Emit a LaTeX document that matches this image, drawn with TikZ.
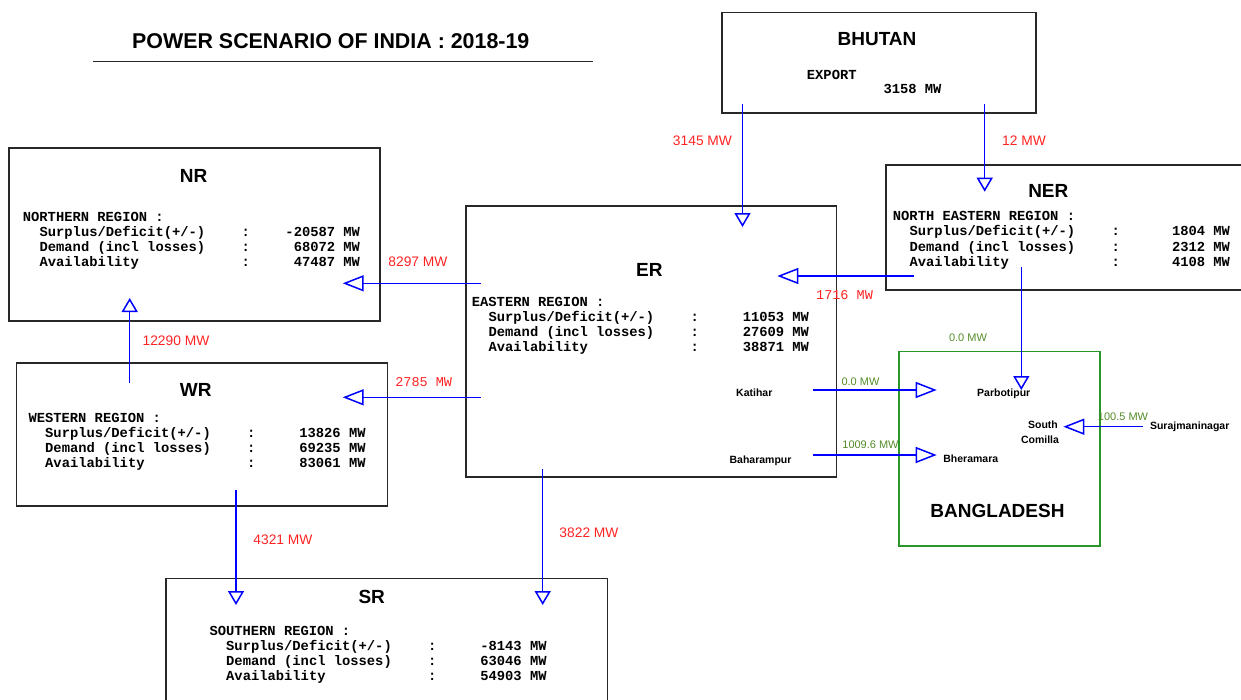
\documentclass[tikz,border=0pt]{standalone}
\usepackage{fontspec}
\setmainfont{Liberation Sans}
\newfontfamily\monof{Liberation Mono}
\usetikzlibrary{arrows.meta}

\definecolor{flowblue}{RGB}{0,0,255}
\definecolor{lblred}{RGB}{255,35,35}
\definecolor{lblgreen}{RGB}{85,140,40}
\definecolor{boxgray}{RGB}{40,40,40}
\definecolor{bdgreen}{RGB}{40,150,40}

\tikzset{
  regbox/.style={draw=boxgray, line width=1.6pt, inner sep=0pt, anchor=north west},
  bdbox/.style={draw=bdgreen, line width=1.5pt, inner sep=0pt, anchor=north west},
  harrow/.style={draw=flowblue, line width=1.5pt, -{Triangle[open,length=21pt,width=16pt]}},
  varrow/.style={draw=flowblue, line width=1.5pt, -{Triangle[open,length=14pt,width=16pt]}},
  ttl/.style={font=\fontsize{19}{19}\selectfont\bfseries, inner sep=0pt, text height=13.7pt, text depth=0pt},
  mono/.style={font=\monof\bfseries\fontsize{13.8}{14}\selectfont, inner sep=0pt, text height=8pt, text depth=0pt},
  redlbl/.style={text=lblred, font=\fontsize{13.8}{14}\selectfont, inner sep=0pt, text height=10pt, text depth=0pt},
  redmono/.style={text=lblred, font=\monof\fontsize{13.5}{14}\selectfont, inner sep=0pt, text height=8pt, text depth=0pt},
  grnlbl/.style={text=lblgreen, font=\fontsize{11}{11}\selectfont, inner sep=0pt, text height=8pt, text depth=0pt},
  place/.style={font=\fontsize{10.5}{11}\selectfont\bfseries, inner sep=0pt, text height=7.6pt, text depth=0pt},
}

% #1 name, #2 x, #3 y, #4 header, #5 surplus, #6 demand, #7 availability
\newcommand\regblock[7]{%
  \begin{scope}[shift={(#2,#3)}]
    \node[mono,anchor=west] (#1-h) at (0,0) {#4};
    \node[mono,anchor=west] (#1-sl) at (16.7,15.2) {Surplus/Deficit(+/-)};
    \node[mono,anchor=west] (#1-dl) at (16.7,30.6) {Demand (incl losses)};
    \node[mono,anchor=west] (#1-al) at (16.7,45.6) {Availability};
    \node[mono] (#1-sc) at (223,15.2) {:};
    \node[mono] (#1-dc) at (223,30.6) {:};
    \node[mono] (#1-ac) at (223,45.6) {:};
    \node[mono,anchor=east] (#1-sv) at (337.5,15.2) {#5 MW};
    \node[mono,anchor=east] (#1-dv) at (337.5,30.6) {#6 MW};
    \node[mono,anchor=east] (#1-av) at (337.5,45.6) {#7 MW};
  \end{scope}}

\begin{document}
\begin{tikzpicture}[x=1pt,y=-1pt]
\useasboundingbox (0,0) rectangle (1241,699);
\clip (0,0) rectangle (1241,699);

% title
\node[font=\fontsize{21.4}{22}\selectfont\bfseries, inner sep=0pt, text height=15.4pt, text depth=0pt] (title) at (330.8,40.8) {POWER SCENARIO OF INDIA : 2018-19};
\coordinate (ul-a) at (93.3,61.7);
\coordinate (ul-b) at (593.3,61.7);
\draw[boxgray, line width=1.5pt] (ul-a) -- (ul-b);

% boxes
\node[regbox, minimum width=314pt, minimum height=100.6pt] (bhutan) at (721,11.7) {};
\node[regbox, minimum width=371pt, minimum height=172.7pt] (nr) at (8.3,147.3) {};
\node[regbox, minimum width=370.7pt, minimum height=271pt] (er) at (465,205) {};
\node[regbox, minimum width=370pt, minimum height=125.3pt] (ner) at (885,164) {};
\node[regbox, minimum width=371pt, minimum height=142.7pt] (wr) at (15.7,362.3) {};
\node[regbox, minimum width=441.7pt, minimum height=140pt] (sr) at (165,577.7) {};
\node[bdbox, minimum width=201pt, minimum height=194.3pt] (bd) at (898.3,350.7) {};

% box titles
\node[ttl] (bhutan-t) at (877,38.8) {BHUTAN};
\node[ttl] (nr-t) at (193.7,175.3) {NR};
\node[ttl] (er-t) at (649.3,269.3) {ER};
\node[ttl] (ner-t) at (1048.3,190.3) {NER};
\node[ttl] (wr-t) at (195.8,389.7) {WR};
\node[ttl] (sr-t) at (371.7,596.7) {SR};
\node[ttl] (bd-t) at (997.5,510.7) {BANGLADESH};

% Bhutan export
\node[mono,anchor=west] (exp) at (806.7,75) {EXPORT};
\node[mono,anchor=west] (expv) at (883.3,89.3) {3158 MW};

% region blocks
\regblock{nrb}{22.7}{217.3}{NORTHERN REGION :}{-20587}{68072}{47487}
\regblock{erb}{471.7}{302.3}{EASTERN REGION :}{11053}{27609}{38871}
\regblock{nerb}{892.7}{216.7}{NORTH EASTERN REGION :}{1804}{2312}{4108}
\regblock{wrb}{28.3}{418.3}{WESTERN REGION :}{13826}{69235}{83061}
\regblock{srb}{209.3}{631}{SOUTHERN REGION :}{-8143}{63046}{54903}

% place names
\node[place] (katihar) at (754.3,392.7) {Katihar};
\node[place] (baharampur) at (760.5,459.3) {Baharampur};
\node[place] (parbotipur) at (1003.7,392.7) {Parbotipur};
\node[place] (south) at (1043,425) {South};
\node[place] (comilla) at (1040,440) {Comilla};
\node[place] (bheramara) at (970.8,459) {Bheramara};
\node[place] (suraj) at (1189.7,425.7) {Surajmaninagar};

% flow end points
\coordinate (bt-er-s) at (742.5,104);
\coordinate (bt-er-t) at (742.5,227);
\coordinate (bt-ner-s) at (984.7,104);
\coordinate (bt-ner-t) at (984.7,191.7);
\coordinate (ner-er-s) at (914.3,276);
\coordinate (ner-er-t) at (777.3,276);
\coordinate (er-nr-s) at (480.5,283.3);
\coordinate (er-nr-t) at (342.7,283.3);
\coordinate (er-wr-s) at (480.5,397.3);
\coordinate (er-wr-t) at (342.7,397.3);
\coordinate (wr-nr-s) at (129.7,383.3);
\coordinate (wr-nr-t) at (129.7,298);
\coordinate (wr-sr-s) at (236,490);
\coordinate (wr-sr-t) at (236,605);
\coordinate (er-sr-s) at (542.7,469.3);
\coordinate (er-sr-t) at (542.7,605);
\coordinate (ner-bd-s) at (1021.3,267.3);
\coordinate (ner-bd-t) at (1021.3,390);
\coordinate (kat-s) at (812.7,390);
\coordinate (kat-t) at (936.7,390);
\coordinate (bah-s) at (812.7,455);
\coordinate (bah-t) at (936.7,455);
\coordinate (sur-s) at (1143,426.7);
\coordinate (sur-t) at (1063.3,426.7);

\draw[varrow] (bt-er-s) -- (bt-er-t);
\draw[varrow] (bt-ner-s) -- (bt-ner-t);
\draw[harrow] (ner-er-s) -- (ner-er-t);
\draw[harrow] (er-nr-s) -- (er-nr-t);
\draw[harrow] (er-wr-s) -- (er-wr-t);
\draw[varrow] (wr-nr-s) -- (wr-nr-t);
\draw[varrow] (wr-sr-s) -- (wr-sr-t);
\draw[varrow] (er-sr-s) -- (er-sr-t);
\draw[varrow] (ner-bd-s) -- (ner-bd-t);
\draw[harrow] (kat-s) -- (kat-t);
\draw[harrow] (bah-s) -- (bah-t);
\draw[harrow] (sur-s) -- (sur-t);

% flow labels
\node[redlbl] (l-bt-er) at (702.5,140.7) {3145 MW};
\node[redlbl] (l-bt-ner) at (1024,140) {12 MW};
\node[redmono] (l-ner-er) at (844.5,295) {1716 MW};
\node[redlbl] (l-er-nr) at (418,261.7) {8297 MW};
\node[redmono] (l-er-wr) at (423.7,382) {2785 MW};
\node[redlbl] (l-wr-nr) at (176,340) {12290 MW};
\node[redlbl] (l-wr-sr) at (283,539) {4321 MW};
\node[redlbl] (l-er-sr) at (589,532) {3822 MW};
\node[grnlbl] (l-ner-bd) at (968,337.3) {0.0 MW};
\node[grnlbl] (l-kat) at (860.5,381) {0.0 MW};
\node[grnlbl] (l-bah) at (870.5,444.5) {1009.6 MW};
\node[grnlbl] (l-sur) at (1123,416.7) {100.5 MW};
\end{tikzpicture}
\end{document}
